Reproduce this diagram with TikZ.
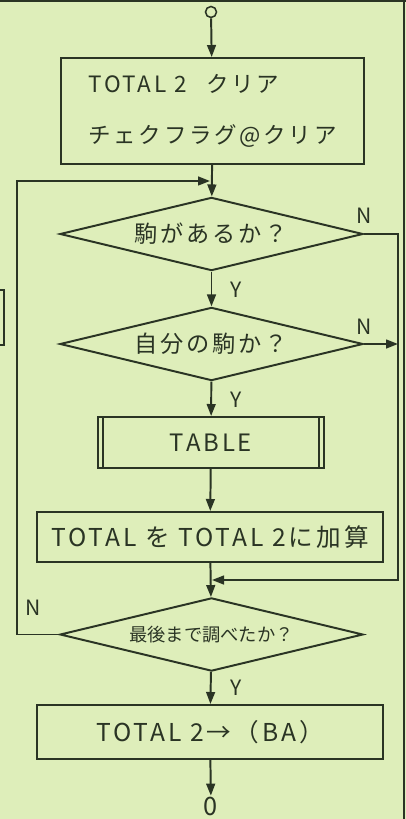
\documentclass[tikz,border=0pt]{standalone}
\usepackage{fontspec}
\setmainfont{Noto Sans CJK JP}
\newfontfamily\jpfont[LetterSpace=12]{Noto Sans CJK JP}
\usetikzlibrary{shapes.geometric, arrows.meta}
\definecolor{paper}{RGB}{222,238,186}
\definecolor{ink}{RGB}{42,52,36}

\begin{document}
\begin{tikzpicture}[
    x=0.025cm, y=-0.025cm,
    >={Triangle[length=3mm, width=2.2mm]},
    color=ink, line width=1.4pt,
    proc/.style={draw, rectangle, inner sep=0pt,
        font=\jpfont\fontsize{16}{19}\selectfont},
    wide/.style={proc, minimum width=8.65cm,
        font=\jpfont\fontsize{17.5}{20}\selectfont},
    decision/.style={draw, diamond, aspect=4.1, inner sep=0pt,
        minimum width=7.575cm, minimum height=1.83cm,
        font=\jpfont\fontsize{16.5}{19}\selectfont},
    yn/.style={font=\fontsize{15}{18}\selectfont}
]

    % page
    \fill[paper] (0,0) rectangle (406,819);
    \useasboundingbox (0,0) rectangle (406,819);
    \draw[line width=0.8pt] (0,1) -- (406,1);
    \draw[line width=0.8pt] (404,0) -- (404,819);
    \draw[line width=0.8pt] (0,290) -- (4,290) -- (4,345) -- (0,345);

    % flow
    \node[draw, circle, minimum size=0.275cm, inner sep=0pt, line width=1.1pt] (start) at (211,12) {};
    \node[proc, minimum width=7.575cm, minimum height=2.65cm, align=left] (clear) at (212.5,111)
        {TOTAL 2\hspace{14pt}クリア\\[17pt]チェクフラグ@クリア};
    \node[decision] (koma) at (211.5,234) {駒があるか？};
    \node[decision] (own) at (211.5,344) {自分の駒か？};
    \node[proc, minimum width=5.65cm, minimum height=1.275cm,
        font=\jpfont\fontsize{17}{19}\selectfont] (table) at (211,442.5) {TABLE};
    \node[wide, minimum height=1.25cm] (add) at (210,537)
        {TOTAL を TOTAL 2に加算};
    \node[decision, font=\fontsize{13}{15}\selectfont] (last) at (211.5,634.5) {最後まで調べたか？};
    \node[wide, minimum height=1.35cm] (out) at (210,732)
        {TOTAL 2→（BA）};
    \node[font=\fontsize{18}{20}\selectfont, inner sep=0pt] (stop) at (211,806) {0};

    % double bars of the TABLE box
    \draw ([xshift=0.15cm]table.north west) -- ([xshift=0.15cm]table.south west);
    \draw ([xshift=-0.15cm]table.north east) -- ([xshift=-0.15cm]table.south east);

    % loop points
    \coordinate (backtop) at (17,181);
    \coordinate (backjoin) at (210,181);
    \coordinate (rbot) at (398,580);
    \coordinate (merge) at (212,580);

    % main line
    \draw[->] (start) -- (clear);
    \draw[->] (clear) -- (koma);
    \draw[->] (koma) -- (own);
    \draw[->] (own) -- (table);
    \draw[->] (table) -- (add);
    \draw[->] (add) -- (last);
    \draw[->] (last) -- (out);
    \draw[->] (out) -- (stop);

    % N branches
    \draw[->] (koma.east) -- (koma.east -| rbot) -- (rbot) -- (merge);
    \draw[->] (own.east) -- (own.east -| rbot);
    \draw[->] (last.west) -| (backtop) -- (backjoin);

    % Y / N labels
    \foreach \p in {290,400,688} {
        \node[yn] (y\p) at (236,\p) {Y};
    }
    \foreach \x/\y in {364/216, 364/327, 33/608} {
        \node[yn] (n\y) at (\x,\y) {N};
    }

\end{tikzpicture}
\end{document}
